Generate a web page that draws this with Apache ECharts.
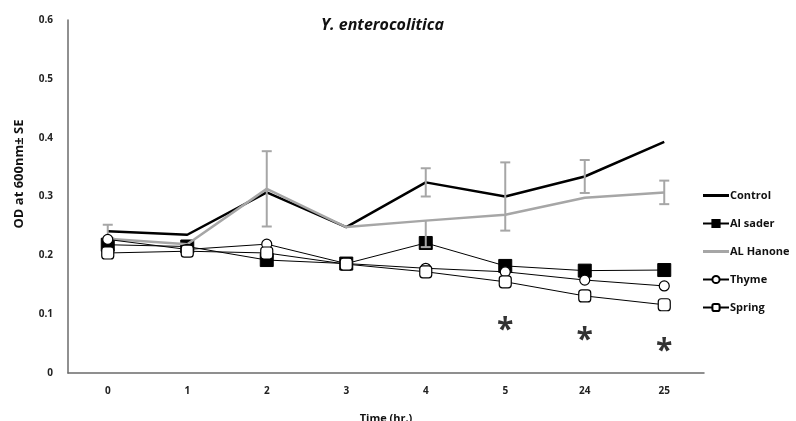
<!DOCTYPE html>
<html>
<head>
<meta charset="utf-8">
<script src="https://cdn.jsdelivr.net/npm/echarts@6/dist/echarts.min.js"></script>
<style>
    html, body { margin: 0; padding: 0; background: #fff; }
    #main { width: 796px; height: 421px; }
</style>
</head>
<body>
<div id="main"></div>
<script>
    var hours = ['0', '1', '2', '3', '4', '5', '24', '25'];
    var control = [0.241, 0.235, 0.307, 0.248, 0.324, 0.300, 0.334, 0.393];
    var alSader = [0.218, 0.215, 0.192, 0.186, 0.221, 0.182, 0.174, 0.175];
    var alHanone = [0.228, 0.219, 0.313, 0.248, 0.259, 0.269, 0.298, 0.307];
    var thyme = [0.227, 0.210, 0.219, 0.186, 0.178, 0.172, 0.158, 0.148];
    var spring = [0.204, 0.207, 0.204, 0.185, 0.172, 0.155, 0.131, 0.116];

    // SE bars (plus / minus)
    var controlSE = [0.011, 0, 0, 0, 0.024, 0.058, 0.028, 0];
    var hanonePlus = [0, 0, 0.064, 0, 0, 0, 0, 0.02];
    var hanoneMinus = [0, 0, 0.064, 0, 0.045, 0, 0, 0.02];

    // significance marks
    var starHours = ['5', '24', '25'];
    var starValues = [0.082, 0.066, 0.046];

    var font = "'Open Sans', sans-serif";
    var lineIcon = 'path://M0,0L26,0L26,3L0,3Z';

    function errData(vals, plus, minus) {
        var out = [];
        for (var i = 0; i < vals.length; i++) {
            if (plus[i] || minus[i]) out.push([i, vals[i], plus[i], minus[i]]);
        }
        return out;
    }

    function errRender(params, api) {
        var x = api.value(0), v = api.value(1);
        var top = api.coord([x, v + api.value(2)]);
        var bot = api.coord([x, v - api.value(3)]);
        var style = { stroke: '#a6a6a6', lineWidth: 2 };
        var kids = [{ type: 'line', shape: { x1: top[0], y1: top[1], x2: bot[0], y2: bot[1] }, style: style }];
        if (api.value(2) > 0) kids.push({ type: 'line', shape: { x1: top[0] - 5, y1: top[1], x2: top[0] + 5, y2: top[1] }, style: style });
        if (api.value(3) > 0) kids.push({ type: 'line', shape: { x1: bot[0] - 5, y1: bot[1], x2: bot[0] + 5, y2: bot[1] }, style: style });
        return { type: 'group', children: kids };
    }

    var starData = [];
    for (var i = 0; i < starHours.length; i++) {
        starData.push([starHours[i], starValues[i]]);
    }

    var chart = echarts.init(document.getElementById('main'));
    chart.setOption({
        animation: false,
        textStyle: { fontFamily: font },
        grid: { left: 68, right: 92, top: 20, bottom: 48, outerBoundsMode: 'none', containLabel: false },
        graphic: [
            {
                type: 'text', left: 321, top: 17,
                style: { text: 'Y. enterocolitica', font: 'italic bold 16px ' + font, fill: '#111' }
            },
            {
                type: 'text', x: 19, y: 174, rotation: Math.PI / 2,
                style: { text: 'OD at 600nm± SE', font: 'bold 13px ' + font, fill: '#111', align: 'center', verticalAlign: 'middle' }
            }
        ],
        legend: {
            orient: 'vertical',
            left: 697,
            top: 185,
            itemGap: 17,
            itemWidth: 26,
            itemHeight: 9,
            textStyle: { fontSize: 11, fontWeight: 'bold', color: '#111', padding: [0, 0, 0, -4] },
            data: [
                { name: 'Control', icon: lineIcon },
                { name: 'Al sader' },
                { name: 'AL Hanone', icon: lineIcon },
                { name: 'Thyme' },
                { name: 'Spring' }
            ]
        },
        xAxis: {
            type: 'category',
            data: hours,
            boundaryGap: true,
            name: 'Time (hr.)',
            nameLocation: 'middle',
            nameGap: 40,
            nameTextStyle: { fontSize: 11, fontWeight: 'bold', color: '#111' },
            axisLine: { lineStyle: { color: '#6b6b6b', width: 1.5 } },
            axisTick: { show: false },
            axisLabel: { fontSize: 10, fontWeight: 'bold', color: '#222', margin: 13 }
        },
        yAxis: {
            type: 'value',
            min: 0,
            max: 0.6,
            interval: 0.1,
            axisLine: { show: true, lineStyle: { color: '#6b6b6b', width: 1.5 } },
            axisTick: { show: false },
            splitLine: { show: false },
            axisLabel: { fontSize: 10, fontWeight: 'bold', color: '#222', margin: 15 }
        },
        series: [
            {
                name: 'Control', type: 'line', data: control,
                symbol: 'none', z: 2,
                lineStyle: { color: '#000', width: 2.5 },
                itemStyle: { color: '#000' }
            },
            {
                name: 'Al sader', type: 'line', data: alSader,
                symbol: 'rect', symbolSize: 13, z: 3,
                lineStyle: { color: '#000', width: 1 },
                itemStyle: { color: '#000', borderColor: '#000', borderWidth: 1 }
            },
            {
                name: 'AL Hanone', type: 'line', data: alHanone,
                symbol: 'none', z: 4,
                lineStyle: { color: '#a6a6a6', width: 2.5 },
                itemStyle: { color: '#a6a6a6' }
            },
            {
                name: 'Thyme', type: 'line', data: thyme,
                symbol: 'circle', symbolSize: 10, z: 5,
                lineStyle: { color: '#000', width: 1 },
                itemStyle: { color: '#fff', borderColor: '#000', borderWidth: 1.2 }
            },
            {
                name: 'Spring', type: 'line', data: spring,
                symbol: 'roundRect', symbolSize: 12, z: 6,
                lineStyle: { color: '#000', width: 1 },
                itemStyle: { color: '#fff', borderColor: '#000', borderWidth: 1.2 }
            },
            {
                type: 'custom', renderItem: errRender, z: 4,
                data: errData(control, controlSE, controlSE)
            },
            {
                type: 'custom', renderItem: errRender, z: 4,
                data: errData(alHanone, hanonePlus, hanoneMinus)
            },
            {
                type: 'scatter', data: starData, symbolSize: 1, z: 7,
                itemStyle: { color: 'rgba(0,0,0,0)' },
                label: {
                    show: true, position: 'inside', formatter: '*',
                    fontSize: 30, fontWeight: 'bold', color: '#000', offset: [0, 6]
                }
            }
        ]
    });
</script>
</body>
</html>
